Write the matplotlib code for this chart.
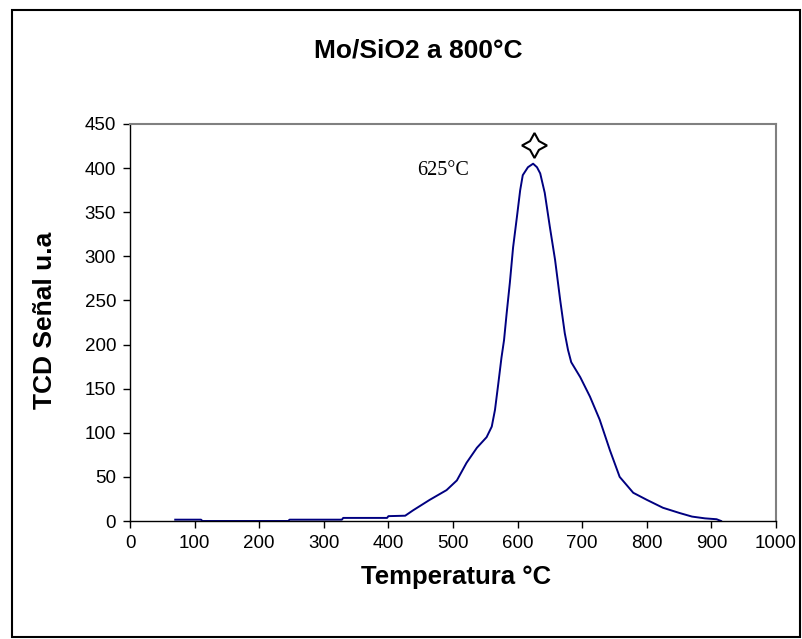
import matplotlib
matplotlib.use("Agg")
import matplotlib.pyplot as plt
from matplotlib.patches import Rectangle

# TPR signal (temperature in °C, TCD signal in a.u.)
temp = [70, 90, 110, 112, 245, 247, 328, 330, 398, 400, 426, 438, 464, 490,
        506, 521, 537, 552, 560, 565, 570, 575, 579, 583, 588, 593, 599, 604,
        608, 616, 624, 630, 635, 642, 650, 658, 666, 673, 678, 683, 697, 712,
        727, 743, 758, 779, 800, 825, 851, 870, 890, 908, 915]
signal = [1.5, 1.5, 1.5, 0, 0, 1.5, 1.5, 3.5, 3.5, 5.5, 6, 12, 24, 35,
          46, 66, 83, 95, 107, 126, 155, 185, 205, 235, 270, 310, 345, 375,
          392, 401, 405, 401, 394, 372, 333, 296, 250, 213, 194, 180, 163, 141,
          115, 80, 50, 32, 24, 15, 9, 5, 3, 2, 0]

peak_temp = 625
peak_mark = 426
peak_label = "625°C"

x_ticks = list(range(0, 1001, 100))
y_ticks = list(range(0, 451, 50))

plt.rcParams["font.family"] = ["Liberation Sans", "DejaVu Sans"]

fig = plt.figure(figsize=(8.02, 6.39), dpi=100)
ax = fig.add_axes([130 / 802, 1 - 521 / 639, 646 / 802, 397 / 639])

ax.plot(temp, signal, color="#000080", linewidth=1.4)
ax.plot([peak_temp], [peak_mark], marker=(4, 1, 0), markersize=18,
        markerfacecolor="white", markeredgecolor="black", markeredgewidth=1.5,
        linestyle="none")
ax.text(444, 392, peak_label, fontsize=14.5, family=["Liberation Serif", "DejaVu Serif"])

ax.set_xlim(0, 1000)
ax.set_ylim(0, 450)
ax.set_xticks(x_ticks)
ax.set_yticks(y_ticks)
ax.tick_params(direction="out", length=5, width=1, labelsize=13.5, pad=5)

for side in ("top", "right"):
    ax.spines[side].set_color("#808080")
    ax.spines[side].set_linewidth(1.5)
for side in ("left", "bottom"):
    ax.spines[side].set_color("black")
    ax.spines[side].set_linewidth(1)

fig.text(418 / 802, 1 - 50 / 639, "Mo/SiO2 a 800°C", ha="center", va="center",
         fontsize=19, fontweight="bold")
fig.text(456 / 802, 1 - 577 / 639, "Temperatura °C", ha="center", va="center",
         fontsize=18.5, fontweight="bold")
fig.text(45 / 802, 1 - 320 / 639, "TCD Señal u.a", ha="center", va="center",
         rotation=90, fontsize=19, fontweight="bold")

# outer chart border
fig.patches.append(Rectangle((12 / 802, 2 / 639), 788 / 802, 627 / 639,
                             transform=fig.transFigure, fill=False,
                             edgecolor="black", linewidth=1.5))

fig.savefig("out.png", dpi=100)
